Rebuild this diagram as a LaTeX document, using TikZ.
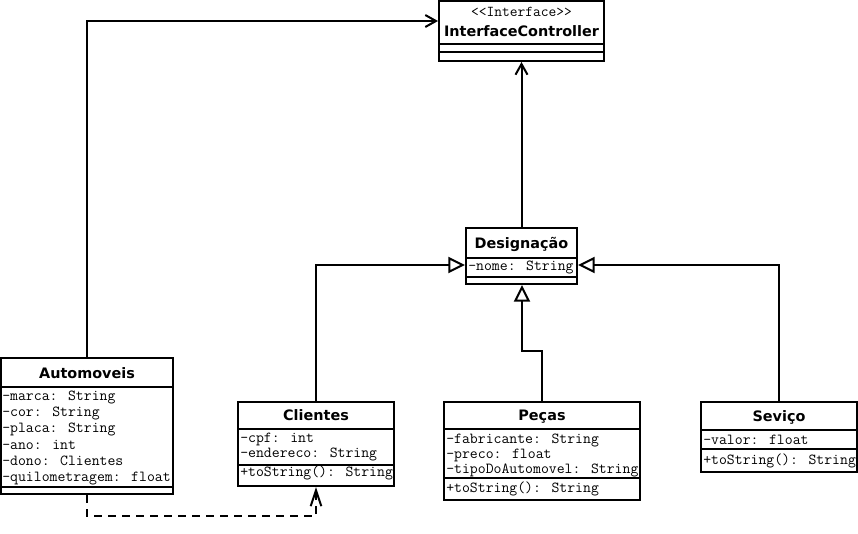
\documentclass[tikz,border=0pt]{standalone}
\usepackage{fontspec}
\setmainfont{DejaVu Sans}
\usetikzlibrary{arrows.meta,calc,fit}
\begin{document}
\begin{tikzpicture}[x=0.75pt,y=-0.75pt,
  box/.style={draw, line width=1.5pt, inner sep=0pt},
  sepline/.style={line width=1.5pt},
  ttl/.style={font=\bfseries\fontsize{10.8}{12}\selectfont, inner sep=0pt, anchor=base},
  stereo/.style={font=\ttfamily\fontsize{11.3}{12}\selectfont, inner sep=0pt, anchor=base},
  attr/.style={font=\ttfamily\fontsize{11.5}{12}\selectfont, inner sep=0pt, anchor=base west},
  conn/.style={line width=1.5pt},
  gen/.style={conn, -{Triangle[open,length=12.5pt,width=12pt,line width=1.5pt]}},
  dep/.style={conn, -{Straight Barb[length=8pt,width=9pt,line width=1.5pt]}},
  use/.style={conn, dash pattern=on 6pt off 4.5pt, -{Straight Barb[length=12pt,width=8pt,line width=1.5pt,sep=0pt]}}
]
\useasboundingbox (0,0) rectangle (858,533);

% InterfaceController
\node[box, fit={(439,1)(604,61)}] (ic) {};
\draw[sepline] (439,44) -- (604,44) (439,52) -- (604,52);
\node[stereo] (icst) at (521.5,16.5) {<<Interface>>};
\node[ttl] (ict) at (521.5,36) {InterfaceController};

% Designacao
\node[box, fit={(466,228)(577,284)}] (des) {};
\draw[sepline] (466,258) -- (577,258) (466,277) -- (577,277);
\node[ttl] (dest) at (521.5,248.3) {Designação};
\node[attr] (desa) at (468,270) {-nome: String};

% Automoveis
\node[box, fit={(1,358)(173,494)}] (aut) {};
\draw[sepline] (1,387) -- (173,387) (1,487) -- (173,487);
\node[ttl] (autt) at (87,378.3) {Automoveis};
\node[attr] (auta1) at (2,400) {-marca: String};
\node[attr] (auta2) at (2,416.3) {-cor: String};
\node[attr] (auta3) at (2,432.7) {-placa: String};
\node[attr] (auta4) at (2,449) {-ano: int};
\node[attr] (auta5) at (2,465.3) {-dono: Clientes};
\node[attr] (auta6) at (2,481.7) {-quilometragem: float};

% Clientes
\node[box, fit={(238,402)(394,486)}] (cli) {};
\draw[sepline] (238,429) -- (394,429) (238,465) -- (394,465);
\node[ttl] (clit) at (316,420) {Clientes};
\node[attr] (clia1) at (240,442.3) {-cpf: int};
\node[attr] (clia2) at (240,457.3) {-endereco: String};
\node[attr] (clim1) at (240,476.7) {+toString(): String};

% Pecas
\node[box, fit={(444,402)(640,500)}] (pec) {};
\draw[sepline] (444,429) -- (640,429) (444,478) -- (640,478);
\node[ttl] (pect) at (542,420.7) {Peças};
\node[attr] (peca1) at (446,443.3) {-fabricante: String};
\node[attr] (peca2) at (446,458.3) {-preco: float};
\node[attr] (peca3) at (446,473.3) {-tipoDoAutomovel: String};
\node[attr] (pecm1) at (446,492.7) {+toString(): String};

% Servico
\node[box, fit={(701,402)(857,472)}] (ser) {};
\draw[sepline] (701,430) -- (857,430) (701,449) -- (857,449);
\node[ttl] (sert) at (779,421.7) {Seviço};
\node[attr] (sera1) at (703,444.3) {-valor: float};
\node[attr] (serm1) at (703,464) {+toString(): String};

% connection points
\coordinate (icL) at ($(ic.north west)+(0,21)$);
\coordinate (desL) at ($(des.north west)+(0,38)$);
\coordinate (desR) at ($(des.north east)+(0,38)$);
\coordinate (pecBend) at (522,351);

% connectors
\draw[dep] (aut.north) |- (icL);
\draw[dep] (des.north) -- (ic.south);
\draw[gen] (cli.north) |- (desL);
\draw[gen] (ser.north) |- (desR);
\draw[gen] (pec.north) |- (pecBend) -- (des.south -| pecBend);
\draw[use] (aut.south) |- ($(cli.south)+(0,29)$) -- (cli.south);
\end{tikzpicture}
\end{document}
